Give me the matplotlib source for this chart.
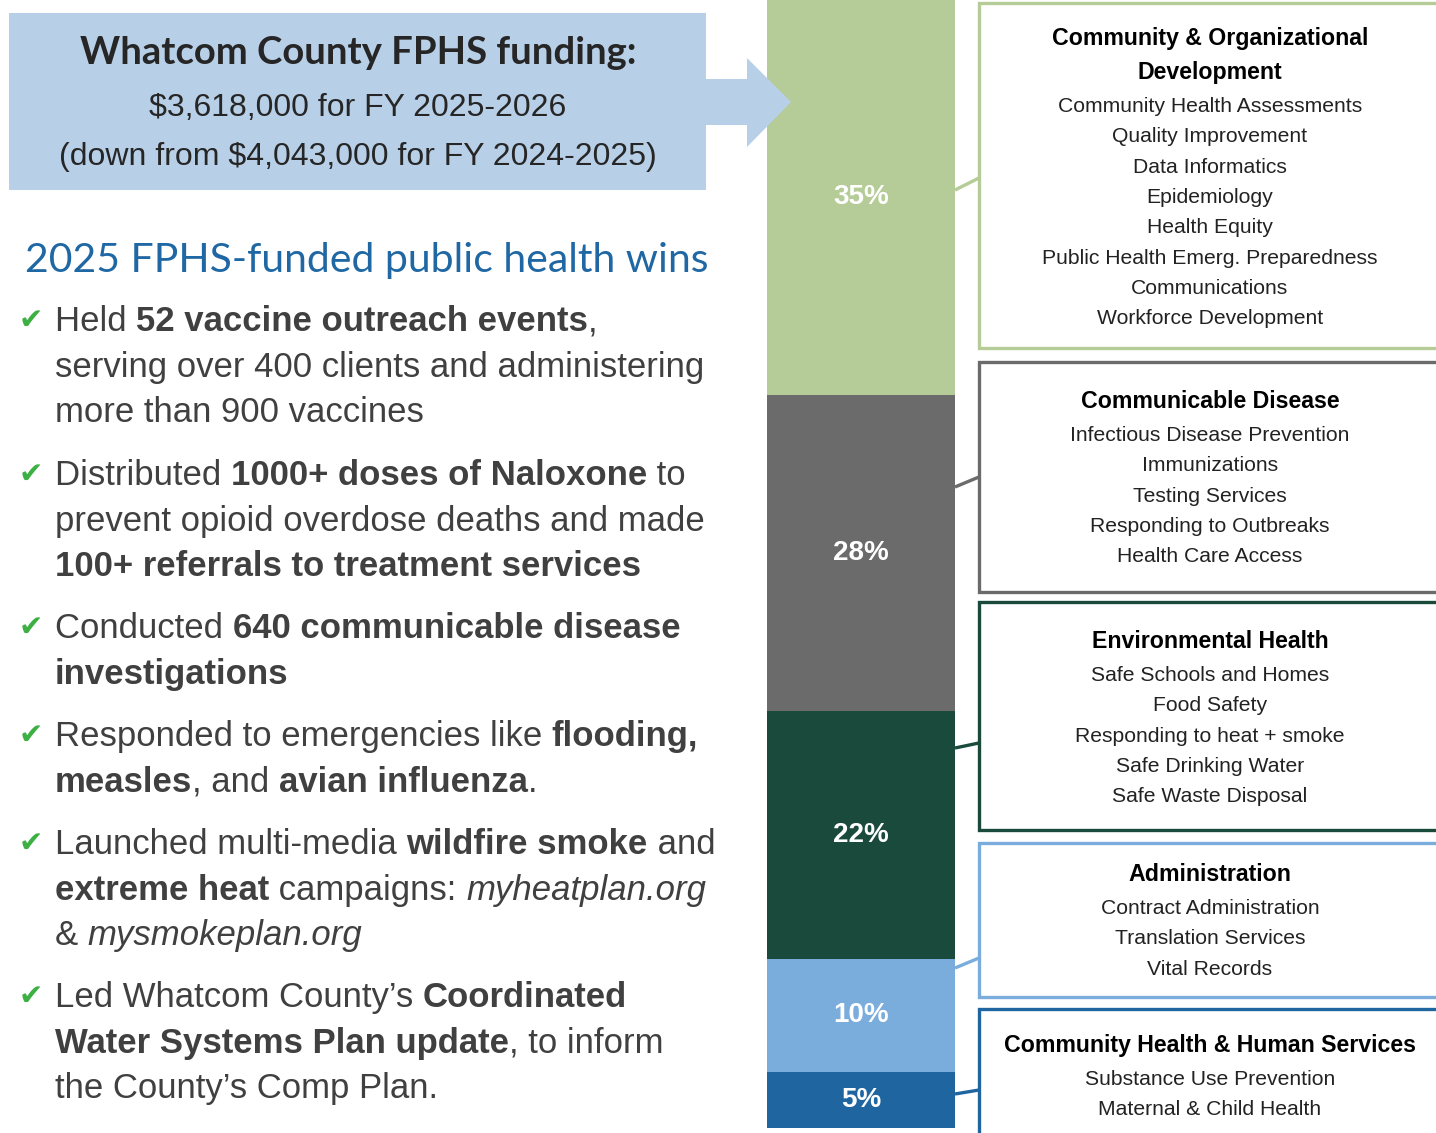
import matplotlib
matplotlib.use("Agg")
import matplotlib.pyplot as plt
from matplotlib.patches import Rectangle, Polygon
import numpy as np

W, H = 1436, 1133

# ------------------------------------------------------------
# data
# ------------------------------------------------------------
shares = [35, 28, 22, 10, 5]
bar_colors = ["#b5cc98", "#6b6b6b", "#1a4a3c", "#7aacdc", "#1f66a0"]

box_titles = [
    ["Community & Organizational", "Development"],
    ["Communicable Disease"],
    ["Environmental Health"],
    ["Administration"],
    ["Community Health & Human Services"],
]
box_items = [
    ["Community Health Assessments", "Quality Improvement", "Data Informatics",
     "Epidemiology", "Health Equity", "Public Health Emerg. Preparedness",
     "Communications", "Workforce Development"],
    ["Infectious Disease Prevention", "Immunizations", "Testing Services",
     "Responding to Outbreaks", "Health Care Access"],
    ["Safe Schools and Homes", "Food Safety", "Responding to heat + smoke",
     "Safe Drinking Water", "Safe Waste Disposal"],
    ["Contract Administration", "Translation Services", "Vital Records"],
    ["Substance Use Prevention", "Maternal & Child Health"],
]

header_title = "Whatcom County FPHS funding:"
header_lines = ["$3,618,000 for FY 2025-2026", "(down from $4,043,000 for FY 2024-2025)"]
wins_title = "2025 FPHS-funded public health wins"

# n = normal, b = bold, i = italic
wins = [
    [[("Held ", "n"), ("52 vaccine outreach events", "b"), (",", "n")],
     [("serving over 400 clients and administering", "n")],
     [("more than 900 vaccines", "n")]],
    [[("Distributed ", "n"), ("1000+ doses of Naloxone", "b"), (" to", "n")],
     [("prevent opioid overdose deaths and made", "n")],
     [("100+ referrals to treatment services", "b")]],
    [[("Conducted ", "n"), ("640 communicable disease", "b")],
     [("investigations", "b")]],
    [[("Responded to emergencies like ", "n"), ("flooding,", "b")],
     [("measles", "b"), (", and ", "n"), ("avian influenza", "b"), (".", "n")]],
    [[("Launched multi-media ", "n"), ("wildfire smoke", "b"), (" and", "n")],
     [("extreme heat", "b"), (" campaigns: ", "n"), ("myheatplan.org", "i")],
     [("& ", "n"), ("mysmokeplan.org", "i")]],
    [[("Led Whatcom County\u2019s ", "n"), ("Coordinated", "b")],
     [("Water Systems Plan update", "b"), (", to inform", "n")],
     [("the County\u2019s Comp Plan.", "n")]],
]

# ------------------------------------------------------------
# layout (pixels)
# ------------------------------------------------------------
box_top = [3, 362, 602, 843, 1009]
box_bot = [348, 592, 830, 997, 1140]
box_head_y = [38, 401, 641, 874, 1045]
link_y = [(190, 178), (487, 477), (748, 743), (968, 958), (1094, 1090)]
win_y = [319, 473, 626, 734, 842, 995]
LINE = 45.6

SANS = ["Liberation Sans", "DejaVu Sans"]
GEO = ["Lato", "DejaVu Sans"]
TXT = "#404040"

fig = plt.figure(figsize=(W / 100, H / 100), dpi=100)

# stacked funding bar
bax = fig.add_axes([767 / W, 1 - 1128 / H, 188 / W, 1128 / H])
bottoms = np.concatenate([[0], np.cumsum(shares)[:-1]])
bax.bar(0, shares, bottom=bottoms, width=1.0, color=bar_colors, linewidth=0)
bax.set_xlim(-0.5, 0.5)
bax.set_ylim(100, 0)
bax.axis("off")
for s, b in zip(shares, bottoms):
    bax.text(0, b + s / 2, f"{s}%", ha="center", va="center", color="white",
             fontsize=20, fontweight="bold", family=SANS)

# overlay in pixel coordinates
ax = fig.add_axes([0, 0, 1, 1])
ax.set_xlim(0, W)
ax.set_ylim(H, 0)
ax.axis("off")
ax.set_zorder(3)

ax.add_patch(Rectangle((9, 13), 697, 177, color="#b8cfe8", lw=0))
ax.add_patch(Polygon([(704, 79), (747, 79), (747, 58), (791, 102), (747, 147),
                      (747, 125), (704, 125)], closed=True, color="#b8cfe8", lw=0))
ax.text(358, 64, header_title, ha="center", va="baseline", fontsize=27.5,
        fontweight="bold", family=GEO, color="#262626")
for y, s in zip([116, 165], header_lines):
    ax.text(358, y, s, ha="center", va="baseline", fontsize=23, family=SANS,
            color="#262626")

ax.text(25, 272, wins_title, ha="left", va="baseline", fontsize=29.5,
        family=GEO, color="#2068a4")

renderer = fig.canvas.get_renderer()


def width_of(s, **kw):
    t1 = ax.text(0, 0, s + "|", **kw)
    t2 = ax.text(0, 0, "|", **kw)
    w = t1.get_window_extent(renderer).width - t2.get_window_extent(renderer).width
    t1.remove()
    t2.remove()
    return w


STYLES = {"n": dict(fontweight="normal", fontstyle="normal"),
          "b": dict(fontweight="bold", fontstyle="normal"),
          "i": dict(fontweight="normal", fontstyle="italic")}

for y0, lines in zip(win_y, wins):
    ax.text(31, y0 + 10, "\u2714", ha="center", va="baseline", fontsize=21,
            color="#3cb043", family="DejaVu Sans")
    for k, parts in enumerate(lines):
        x = 55
        y = y0 + k * LINE + 12
        for s, st in parts:
            kw = dict(fontsize=25, family=SANS, color=TXT, **STYLES[st])
            ax.text(x, y, s, ha="left", va="baseline", **kw)
            x += width_of(s, **kw)

# category boxes
for i in range(5):
    c = bar_colors[i]
    ax.add_patch(Rectangle((979, box_top[i]), 480, box_bot[i] - box_top[i],
                           facecolor="white", edgecolor=c, lw=2.4, zorder=2))
    (y1, y2) = link_y[i]
    ax.plot([955, 979], [y1, y2], color=c, lw=2.4, zorder=1, solid_capstyle="butt")
    y = box_head_y[i] + 7
    for t in box_titles[i]:
        ax.text(1210, y, t, ha="center", va="baseline", fontsize=16.7, fontweight="bold",
                family=SANS, color="black", zorder=3)
        y += 34
    y -= 1
    for t in box_items[i]:
        ax.text(1210, y, t, ha="center", va="baseline", fontsize=15.2,
                family=SANS, color="#222222", zorder=3)
        y += 30.3

fig.savefig("out.png", dpi=100)
